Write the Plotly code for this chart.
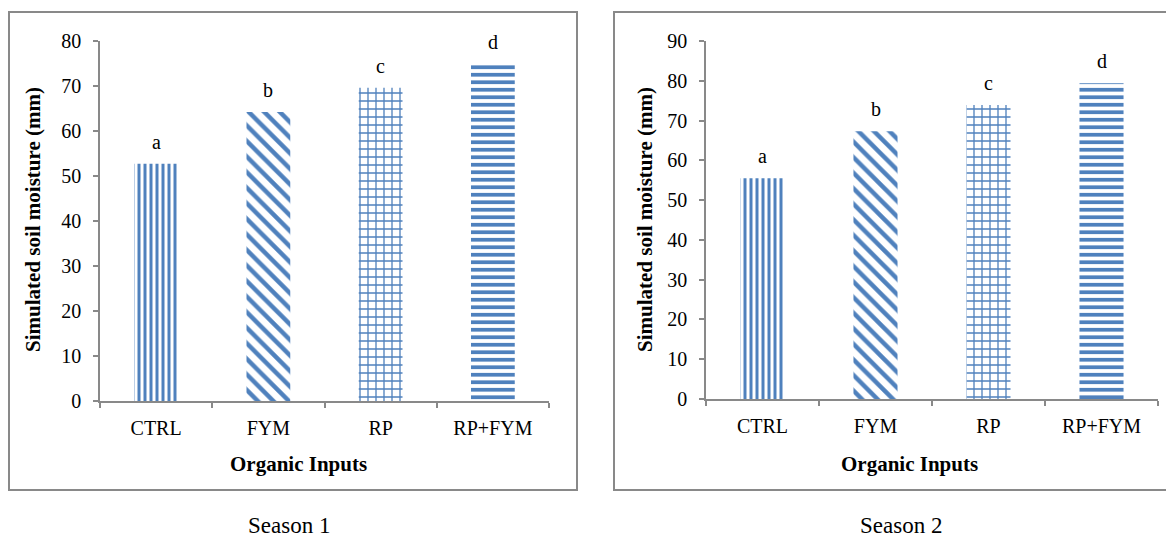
import plotly.graph_objects as go

categories = ["CTRL", "FYM", "RP", "RP+FYM"]
season1_values = [52.7, 64.2, 69.6, 75.0]
season2_values = [55.5, 67.3, 73.9, 79.4]
letters = ["a", "b", "c", "d"]
season1_patterns = ["|", "\\", "+", "-"]
season2_patterns = ["|", "\\", "+", "-"]
y1_ticks = [0, 10, 20, 30, 40, 50, 60, 70, 80]
y2_ticks = [0, 10, 20, 30, 40, 50, 60, 70, 80, 90]

BLUE = "#4F81BD"
GRAY = "#898989"
FONT = "Liberation Serif"
W, H = 1166, 540

pattern_sizes = {"|": 6, "\\": 11, "+": 8, "-": 7.5}
pattern_solid = {"|": 0.5, "\\": 0.4, "+": 0.3, "-": 0.5}


def px(x):
    return x / W


def py(y):
    return 1 - y / H


fig = go.Figure()

for vals, pats, xa, ya in [
    (season1_values, season1_patterns, "x", "y"),
    (season2_values, season2_patterns, "x2", "y2"),
]:
    fig.add_trace(go.Bar(
        x=categories, y=vals, xaxis=xa, yaxis=ya,
        marker=dict(
            color="white",
            line=dict(width=0),
            pattern=dict(
                shape=pats,
                fgcolor=BLUE,
                bgcolor="white",
                size=[pattern_sizes[p] for p in pats],
                solidity=[pattern_solid[p] for p in pats],
                fillmode="replace",
            ),
        ),
        showlegend=False,
        hoverinfo="x+y",
    ))
    for c, v, l in zip(categories, vals, letters):
        fig.add_annotation(
            x=c, y=v, xref=xa, yref=ya, text=l, showarrow=False,
            xanchor="center", yanchor="middle", yshift=22,
            font=dict(family=FONT, size=20, color="black"),
        )

axis_common = dict(
    showline=True, linecolor=GRAY, linewidth=1.5,
    ticks="outside", tickcolor=GRAY, ticklen=5, tickwidth=1.5,
    showgrid=False, zeroline=False,
    tickfont=dict(family=FONT, size=20, color="black"),
)

fig.update_layout(
    width=W, height=H,
    margin=dict(l=0, r=0, t=0, b=0, pad=0),
    paper_bgcolor="white", plot_bgcolor="white",
    bargap=0.61,
    xaxis=dict(domain=[px(100), px(549)], anchor="y", type="category",
               tickson="boundaries", ticklabelstandoff=8, automargin=False, **axis_common),
    yaxis=dict(domain=[py(401), py(41)], anchor="x", range=[0, 80],
               tickvals=y1_ticks, ticklabelstandoff=8, automargin=False, **axis_common),
    xaxis2=dict(domain=[px(706), px(1158)], anchor="y2", type="category",
                tickson="boundaries", ticklabelstandoff=8, automargin=False, **axis_common),
    yaxis2=dict(domain=[py(399), py(41)], anchor="x2", range=[0, 90],
                tickvals=y2_ticks, ticklabelstandoff=8, automargin=False, **axis_common),
)

# Panel frames
fig.add_shape(type="rect", xref="paper", yref="paper",
              x0=px(9), x1=px(577), y0=py(490), y1=py(12),
              line=dict(color=GRAY, width=2))
fig.add_shape(type="rect", xref="paper", yref="paper",
              x0=px(614), x1=px(1175), y0=py(490), y1=py(12),
              line=dict(color=GRAY, width=2))

title_font = dict(family=FONT, size=21, color="black")


def paper_text(text, x, y, font, angle=0):
    fig.add_annotation(text=text, xref="paper", yref="paper",
                       x=px(x), y=py(y), textangle=angle, showarrow=False,
                       xanchor="center", yanchor="middle", font=font)


# Axis titles
paper_text("<b>Simulated soil moisture (mm)</b>", 33, 220, title_font, -90)
paper_text("<b>Organic Inputs</b>", 298, 464, title_font)
paper_text("<b>Simulated soil moisture (mm)</b>", 645, 220, title_font, -90)
paper_text("<b>Organic Inputs</b>", 909, 464, title_font)

# Panel captions
season_font = dict(family=FONT, size=23, color="black")
paper_text("Season 1", 289, 525, season_font)
paper_text("Season 2", 901, 525, season_font)

fig.write_html(
    "out.html",
    config={"displayModeBar": False},
    post_script="document.body.style.margin='0';document.body.style.overflow='hidden';",
)
